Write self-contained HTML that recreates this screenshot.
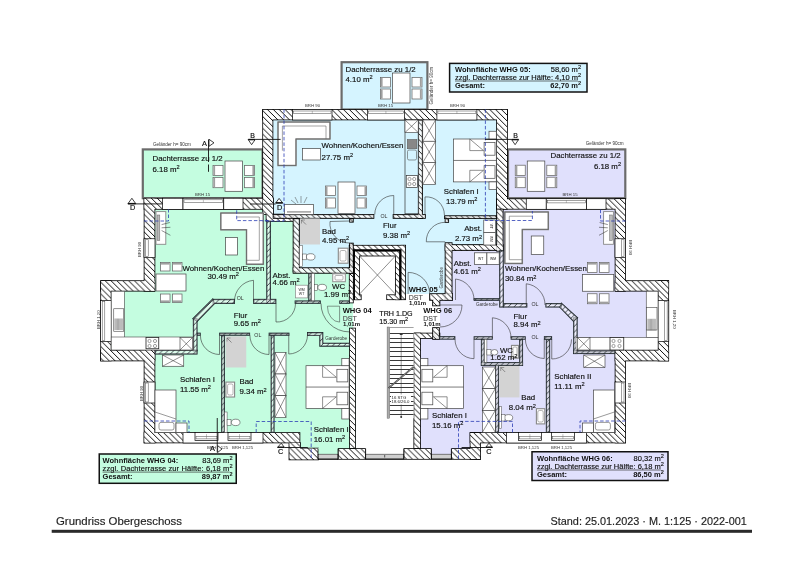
<!DOCTYPE html>
<html><head><meta charset="utf-8"><title>Grundriss Obergeschoss</title>
<style>
html,body{margin:0;padding:0;background:#fff;}
body{width:800px;height:565px;overflow:hidden;}
svg{display:block;will-change:transform;}
text{font-family:"Liberation Sans",sans-serif;}
</style></head><body>
<svg width="800" height="565" viewBox="0 0 800 565">
<defs>
<pattern id="h" patternUnits="userSpaceOnUse" width="5.85" height="5.85"><rect width="5.85" height="5.85" fill="#fff"/><path d="M-1,-1 L6.85,6.85 M-1,4.85 L1,6.85 M4.85,-1 L6.85,1" stroke="#000" stroke-width="0.95"/></pattern>
<pattern id="hi" patternUnits="userSpaceOnUse" width="5.7" height="5.7"><rect width="5.7" height="5.7" fill="#fff" fill-opacity="0.8"/><path d="M-1,-1 L6.7,6.7 M-1,4.7 L1,6.7 M4.7,-1 L6.7,1" stroke="#000" stroke-width="0.85"/></pattern>
<pattern id="hp" patternUnits="userSpaceOnUse" width="5.7" height="5.7"><rect width="5.7" height="5.7" fill="#fff" fill-opacity="0.45"/><path d="M-1,6.7 L6.7,-1 M-1,1 L1,-1 M4.7,6.7 L6.7,4.7" stroke="#1a2228" stroke-width="0.8"/></pattern>
</defs>
<rect width="800" height="565" fill="#fff"/>
<rect x="142.8" y="149.4" width="119.8" height="48.8" fill="#c4fde0" stroke="#6b6b6b" stroke-width="2.2" />
<rect x="341.6" y="62.2" width="85.8" height="47.3" fill="#d5f4ff" stroke="#6b6b6b" stroke-width="2.2" />
<rect x="508" y="149.4" width="117.3" height="48.8" fill="#e0e0fc" stroke="#6b6b6b" stroke-width="2.2" />
<rect x="273" y="120" width="224" height="125" fill="#d5f4ff" stroke="none" stroke-width="1" />
<rect x="300" y="218" width="146" height="76" fill="#d5f4ff" stroke="none" stroke-width="1" />
<polygon points="155,209.4 266.5,209.4 266.5,221 293,221 293,270 350,270 350,300 356,300 356,449 300,449 300,432.5 155,432.5 155,350 111,350 111,291 155,291" fill="#c4fde0" stroke="none" stroke-width="1" />
<rect x="299" y="218" width="51" height="50" fill="#d5f4ff" stroke="none" stroke-width="1" />
<polygon points="615,209.4 503,209.4 503,248 450,248 450,300 420,300 420,449 470,449 470,432.5 615,432.5 615,350 658,350 658,291 615,291" fill="#e0e0fc" stroke="none" stroke-width="1" />
<rect x="356" y="300" width="58" height="149" fill="#fff" stroke="none" stroke-width="1" />
<rect x="353" y="249" width="48" height="51" fill="#fff" stroke="none" stroke-width="1" />
<rect x="353" y="299" width="87" height="34" fill="#fff" stroke="none" stroke-width="1" />
<rect x="440" y="299" width="12" height="31" fill="#e0e0fc" stroke="none" stroke-width="1" />
<rect x="263.1" y="109.9" width="243.9" height="9.6" fill="none" stroke="#000" stroke-width="1.6" />
<rect x="263.1" y="109.9" width="9.4" height="104.1" fill="none" stroke="#000" stroke-width="1.6" />
<polygon points="262.6,198.2 273,198.2 273,214.5 293,214.5 293,221 266.5,221 266.5,209.4 262.6,209.4" fill="none" stroke="#000" stroke-width="1.6" />
<rect x="497" y="109.9" width="10" height="98.8" fill="none" stroke="#000" stroke-width="1.6" />
<rect x="144.5" y="198.7" width="117.6" height="10.2" fill="none" stroke="#000" stroke-width="1.6" />
<rect x="144.5" y="198.7" width="10" height="92.05" fill="none" stroke="#000" stroke-width="1.6" />
<rect x="101.1" y="281.1" width="53.4" height="9.65" fill="none" stroke="#000" stroke-width="1.6" />
<rect x="101.1" y="281.1" width="9.65" height="79.4" fill="none" stroke="#000" stroke-width="1.6" />
<rect x="101.1" y="350.5" width="53.4" height="10" fill="none" stroke="#000" stroke-width="1.6" />
<rect x="144.5" y="350.5" width="10" height="92" fill="none" stroke="#000" stroke-width="1.6" />
<rect x="144.5" y="433" width="155" height="9.5" fill="none" stroke="#000" stroke-width="1.6" />
<polygon points="289.4,443 300,443 300,448.5 318,448.5 318,459.4 289.4,459.4" fill="none" stroke="#000" stroke-width="1.6" />
<rect x="338.5" y="449" width="26.6" height="9.9" fill="none" stroke="#000" stroke-width="1.6" />
<rect x="404.25" y="449" width="26.65" height="9.9" fill="none" stroke="#000" stroke-width="1.6" />
<rect x="451.9" y="449" width="28.2" height="9.9" fill="none" stroke="#000" stroke-width="1.6" />
<rect x="470.5" y="433" width="9.6" height="25.9" fill="none" stroke="#000" stroke-width="1.6" />
<rect x="497" y="199.2" width="128.1" height="9.6" fill="none" stroke="#000" stroke-width="1.6" />
<rect x="615.5" y="199.2" width="9.6" height="91.55" fill="none" stroke="#000" stroke-width="1.6" />
<rect x="615.5" y="281.1" width="52.75" height="9.65" fill="none" stroke="#000" stroke-width="1.6" />
<rect x="658.5" y="281.1" width="9.75" height="79.4" fill="none" stroke="#000" stroke-width="1.6" />
<rect x="615.5" y="350.5" width="52.75" height="10" fill="none" stroke="#000" stroke-width="1.6" />
<rect x="615.5" y="350.5" width="9.6" height="92" fill="none" stroke="#000" stroke-width="1.6" />
<rect x="470.5" y="433" width="154.6" height="9.5" fill="none" stroke="#000" stroke-width="1.6" />
<rect x="349.9" y="328.5" width="5.2" height="119.5" fill="none" stroke="#000" stroke-width="1.6" />
<rect x="414.25" y="333.5" width="5.85" height="114.5" fill="none" stroke="#000" stroke-width="1.6" />
<rect x="414.25" y="333.5" width="25.25" height="4.5" fill="none" stroke="#000" stroke-width="1.6" />
<rect x="349.7" y="245.7" width="55.4" height="3.6" fill="none" stroke="#000" stroke-width="1.6" />
<rect x="349.7" y="245.7" width="3.2" height="56.8" fill="none" stroke="#000" stroke-width="1.6" />
<rect x="401.5" y="245.7" width="3.6" height="53.6" fill="none" stroke="#000" stroke-width="1.6" />
<rect x="353.9" y="250.3" width="46.6" height="0.2" fill="none" stroke="#000" stroke-width="1.6" />
<rect x="355" y="251.5" width="4.1" height="47.8" fill="none" stroke="#000" stroke-width="1.6" />
<rect x="355" y="251.5" width="44.2" height="4.1" fill="none" stroke="#000" stroke-width="1.6" />
<rect x="395.8" y="251.5" width="3.4" height="47.8" fill="none" stroke="#000" stroke-width="1.6" />
<rect x="355" y="295.2" width="5.8" height="4.1" fill="none" stroke="#000" stroke-width="1.6" />
<rect x="387.1" y="295.2" width="13.4" height="4.1" fill="none" stroke="#000" stroke-width="1.6" />
<rect x="263.1" y="109.9" width="243.9" height="9.6" fill="url(#h)" stroke="none" stroke-width="1" />
<rect x="263.1" y="109.9" width="9.4" height="104.1" fill="url(#h)" stroke="none" stroke-width="1" />
<polygon points="262.6,198.2 273,198.2 273,214.5 293,214.5 293,221 266.5,221 266.5,209.4 262.6,209.4" fill="url(#h)" stroke="none" stroke-width="1" />
<rect x="497" y="109.9" width="10" height="98.8" fill="url(#h)" stroke="none" stroke-width="1" />
<rect x="144.5" y="198.7" width="117.6" height="10.2" fill="url(#h)" stroke="none" stroke-width="1" />
<rect x="144.5" y="198.7" width="10" height="92.05" fill="url(#h)" stroke="none" stroke-width="1" />
<rect x="101.1" y="281.1" width="53.4" height="9.65" fill="url(#h)" stroke="none" stroke-width="1" />
<rect x="101.1" y="281.1" width="9.65" height="79.4" fill="url(#h)" stroke="none" stroke-width="1" />
<rect x="101.1" y="350.5" width="53.4" height="10" fill="url(#h)" stroke="none" stroke-width="1" />
<rect x="144.5" y="350.5" width="10" height="92" fill="url(#h)" stroke="none" stroke-width="1" />
<rect x="144.5" y="433" width="155" height="9.5" fill="url(#h)" stroke="none" stroke-width="1" />
<polygon points="289.4,443 300,443 300,448.5 318,448.5 318,459.4 289.4,459.4" fill="url(#h)" stroke="none" stroke-width="1" />
<rect x="338.5" y="449" width="26.6" height="9.9" fill="url(#h)" stroke="none" stroke-width="1" />
<rect x="404.25" y="449" width="26.65" height="9.9" fill="url(#h)" stroke="none" stroke-width="1" />
<rect x="451.9" y="449" width="28.2" height="9.9" fill="url(#h)" stroke="none" stroke-width="1" />
<rect x="470.5" y="433" width="9.6" height="25.9" fill="url(#h)" stroke="none" stroke-width="1" />
<rect x="497" y="199.2" width="128.1" height="9.6" fill="url(#h)" stroke="none" stroke-width="1" />
<rect x="615.5" y="199.2" width="9.6" height="91.55" fill="url(#h)" stroke="none" stroke-width="1" />
<rect x="615.5" y="281.1" width="52.75" height="9.65" fill="url(#h)" stroke="none" stroke-width="1" />
<rect x="658.5" y="281.1" width="9.75" height="79.4" fill="url(#h)" stroke="none" stroke-width="1" />
<rect x="615.5" y="350.5" width="52.75" height="10" fill="url(#h)" stroke="none" stroke-width="1" />
<rect x="615.5" y="350.5" width="9.6" height="92" fill="url(#h)" stroke="none" stroke-width="1" />
<rect x="470.5" y="433" width="154.6" height="9.5" fill="url(#h)" stroke="none" stroke-width="1" />
<rect x="349.9" y="328.5" width="5.2" height="119.5" fill="url(#h)" stroke="none" stroke-width="1" />
<rect x="414.25" y="333.5" width="5.85" height="114.5" fill="url(#h)" stroke="none" stroke-width="1" />
<rect x="414.25" y="333.5" width="25.25" height="4.5" fill="url(#h)" stroke="none" stroke-width="1" />
<rect x="349.7" y="245.7" width="55.4" height="3.6" fill="url(#h)" stroke="none" stroke-width="1" />
<rect x="349.7" y="245.7" width="3.2" height="56.8" fill="url(#h)" stroke="none" stroke-width="1" />
<rect x="401.5" y="245.7" width="3.6" height="53.6" fill="url(#h)" stroke="none" stroke-width="1" />
<rect x="353.9" y="250.3" width="46.6" height="0.2" fill="url(#h)" stroke="none" stroke-width="1" />
<rect x="355" y="251.5" width="4.1" height="47.8" fill="url(#h)" stroke="none" stroke-width="1" />
<rect x="355" y="251.5" width="44.2" height="4.1" fill="url(#h)" stroke="none" stroke-width="1" />
<rect x="395.8" y="251.5" width="3.4" height="47.8" fill="url(#h)" stroke="none" stroke-width="1" />
<rect x="355" y="295.2" width="5.8" height="4.1" fill="url(#h)" stroke="none" stroke-width="1" />
<rect x="387.1" y="295.2" width="13.4" height="4.1" fill="url(#h)" stroke="none" stroke-width="1" />
<rect x="273.5" y="214.9" width="100" height="3.1" fill="none" stroke="#000" stroke-width="1.6" />
<rect x="393.5" y="214.9" width="31.5" height="3.1" fill="none" stroke="#000" stroke-width="1.6" />
<rect x="293.5" y="219" width="5.5" height="52.5" fill="none" stroke="#000" stroke-width="1.6" />
<rect x="293.5" y="268.1" width="59.4" height="4.8" fill="none" stroke="#000" stroke-width="1.6" />
<rect x="350" y="243.5" width="2.9" height="29.4" fill="none" stroke="#000" stroke-width="1.6" />
<rect x="350" y="219" width="2.9" height="2.8" fill="none" stroke="#000" stroke-width="1.6" />
<rect x="418.5" y="120.5" width="3.7" height="97.5" fill="none" stroke="#000" stroke-width="1.6" />
<rect x="444.9" y="216.1" width="51.1" height="2.1" fill="none" stroke="#000" stroke-width="1.6" />
<rect x="445.5" y="219" width="2.75" height="3" fill="none" stroke="#000" stroke-width="1.6" />
<rect x="445.5" y="245" width="57.3" height="5.2" fill="none" stroke="#000" stroke-width="1.6" />
<rect x="497" y="209.5" width="5.8" height="41.3" fill="none" stroke="#000" stroke-width="1.6" />
<rect x="445.5" y="243.1" width="6.2" height="56.4" fill="none" stroke="#000" stroke-width="1.6" />
<polygon points="430,294 452.2,294 452.2,300 439.5,300 439.5,305.5 433,305.5 433,300 430,300" fill="none" stroke="#000" stroke-width="1.6" />
<rect x="433" y="328" width="6" height="11" fill="none" stroke="#000" stroke-width="1.6" />
<rect x="273.5" y="214.9" width="100" height="3.1" fill="url(#hi)" stroke="none" stroke-width="1" />
<rect x="393.5" y="214.9" width="31.5" height="3.1" fill="url(#hi)" stroke="none" stroke-width="1" />
<rect x="293.5" y="219" width="5.5" height="52.5" fill="url(#hi)" stroke="none" stroke-width="1" />
<rect x="293.5" y="268.1" width="59.4" height="4.8" fill="url(#hi)" stroke="none" stroke-width="1" />
<rect x="350" y="243.5" width="2.9" height="29.4" fill="url(#hi)" stroke="none" stroke-width="1" />
<rect x="350" y="219" width="2.9" height="2.8" fill="url(#hi)" stroke="none" stroke-width="1" />
<rect x="418.5" y="120.5" width="3.7" height="97.5" fill="url(#hi)" stroke="none" stroke-width="1" />
<rect x="444.9" y="216.1" width="51.1" height="2.1" fill="url(#hi)" stroke="none" stroke-width="1" />
<rect x="445.5" y="219" width="2.75" height="3" fill="url(#hi)" stroke="none" stroke-width="1" />
<rect x="445.5" y="245" width="57.3" height="5.2" fill="url(#hi)" stroke="none" stroke-width="1" />
<rect x="497" y="209.5" width="5.8" height="41.3" fill="url(#hi)" stroke="none" stroke-width="1" />
<rect x="445.5" y="243.1" width="6.2" height="56.4" fill="url(#hi)" stroke="none" stroke-width="1" />
<polygon points="430,294 452.2,294 452.2,300 439.5,300 439.5,305.5 433,305.5 433,300 430,300" fill="url(#hi)" stroke="none" stroke-width="1" />
<rect x="433" y="328" width="6" height="11" fill="url(#hi)" stroke="none" stroke-width="1" />
<rect x="266.95" y="221.35" width="3.3" height="81.8" fill="none" stroke="#1a2228" stroke-width="1.4" />
<rect x="308.95" y="273.75" width="2.1" height="26.9" fill="none" stroke="#1a2228" stroke-width="1.4" />
<rect x="295.35" y="301.15" width="24.8" height="2" fill="none" stroke="#1a2228" stroke-width="1.4" />
<rect x="339.95" y="301.15" width="9.1" height="2" fill="none" stroke="#1a2228" stroke-width="1.4" />
<rect x="213.35" y="299.55" width="20.9" height="3.7" fill="none" stroke="#1a2228" stroke-width="1.4" />
<rect x="253.85" y="299.55" width="21.8" height="3.7" fill="none" stroke="#1a2228" stroke-width="1.4" />
<polygon points="212.7,299.2 214.3,303.6 197.2,321.1 193.2,318.7" fill="none" stroke="#1a2228" stroke-width="1.4" />
<rect x="193.55" y="319.05" width="3.3" height="31.6" fill="none" stroke="#1a2228" stroke-width="1.4" />
<rect x="197.55" y="333.35" width="2.5" height="1.7" fill="none" stroke="#1a2228" stroke-width="1.4" />
<rect x="155.35" y="350.35" width="41.5" height="3.5" fill="none" stroke="#1a2228" stroke-width="1.4" />
<rect x="219.85" y="333.35" width="29.55" height="1.7" fill="none" stroke="#1a2228" stroke-width="1.4" />
<rect x="269.35" y="333.35" width="19.4" height="1.7" fill="none" stroke="#1a2228" stroke-width="1.4" />
<rect x="221.85" y="335.75" width="2.4" height="96.4" fill="none" stroke="#1a2228" stroke-width="1.4" />
<rect x="271.35" y="335.75" width="2.5" height="96.4" fill="none" stroke="#1a2228" stroke-width="1.4" />
<polygon points="307.7,332.7 322.6,332.7 322.6,343.4 349.4,343.4 349.4,346 320,346 320,335.4 307.7,335.4" fill="none" stroke="#1a2228" stroke-width="1.4" />
<rect x="474.35" y="298.85" width="25.3" height="1.3" fill="none" stroke="#1a2228" stroke-width="1.4" />
<rect x="499.85" y="251.05" width="3.3" height="55.8" fill="none" stroke="#1a2228" stroke-width="1.4" />
<rect x="439.85" y="336.85" width="14.8" height="2.1" fill="none" stroke="#1a2228" stroke-width="1.4" />
<rect x="474.35" y="336.95" width="17.7" height="2.05" fill="none" stroke="#1a2228" stroke-width="1.4" />
<rect x="511.35" y="336.95" width="13.7" height="2.05" fill="none" stroke="#1a2228" stroke-width="1.4" />
<rect x="481.6" y="339.7" width="2.45" height="25.55" fill="none" stroke="#1a2228" stroke-width="1.4" />
<rect x="519.85" y="339.7" width="2.5" height="25.55" fill="none" stroke="#1a2228" stroke-width="1.4" />
<rect x="481.6" y="362.75" width="40.75" height="2.5" fill="none" stroke="#1a2228" stroke-width="1.4" />
<rect x="495.65" y="365.35" width="2.7" height="66.8" fill="none" stroke="#1a2228" stroke-width="1.4" />
<rect x="544.6" y="336.85" width="6.8" height="2.3" fill="none" stroke="#1a2228" stroke-width="1.4" />
<rect x="546.55" y="339.85" width="2.9" height="92.3" fill="none" stroke="#1a2228" stroke-width="1.4" />
<rect x="503.85" y="303.75" width="22.8" height="3.1" fill="none" stroke="#1a2228" stroke-width="1.4" />
<rect x="546.1" y="303.75" width="15.05" height="3.1" fill="none" stroke="#1a2228" stroke-width="1.4" />
<polygon points="561.5,303.4 577.3,317.7 573.5,321 560,307.2" fill="none" stroke="#1a2228" stroke-width="1.4" />
<rect x="573.85" y="318.05" width="3.1" height="35.3" fill="none" stroke="#1a2228" stroke-width="1.4" />
<rect x="573.85" y="351.05" width="40.8" height="2.3" fill="none" stroke="#1a2228" stroke-width="1.4" />
<rect x="266.95" y="221.35" width="3.3" height="81.8" fill="url(#hp)" stroke="none" stroke-width="1" />
<rect x="308.95" y="273.75" width="2.1" height="26.9" fill="url(#hp)" stroke="none" stroke-width="1" />
<rect x="295.35" y="301.15" width="24.8" height="2" fill="url(#hp)" stroke="none" stroke-width="1" />
<rect x="339.95" y="301.15" width="9.1" height="2" fill="url(#hp)" stroke="none" stroke-width="1" />
<rect x="213.35" y="299.55" width="20.9" height="3.7" fill="url(#hp)" stroke="none" stroke-width="1" />
<rect x="253.85" y="299.55" width="21.8" height="3.7" fill="url(#hp)" stroke="none" stroke-width="1" />
<polygon points="212.7,299.2 214.3,303.6 197.2,321.1 193.2,318.7" fill="url(#hp)" stroke="none" stroke-width="1" />
<rect x="193.55" y="319.05" width="3.3" height="31.6" fill="url(#hp)" stroke="none" stroke-width="1" />
<rect x="197.55" y="333.35" width="2.5" height="1.7" fill="url(#hp)" stroke="none" stroke-width="1" />
<rect x="155.35" y="350.35" width="41.5" height="3.5" fill="url(#hp)" stroke="none" stroke-width="1" />
<rect x="219.85" y="333.35" width="29.55" height="1.7" fill="url(#hp)" stroke="none" stroke-width="1" />
<rect x="269.35" y="333.35" width="19.4" height="1.7" fill="url(#hp)" stroke="none" stroke-width="1" />
<rect x="221.85" y="335.75" width="2.4" height="96.4" fill="url(#hp)" stroke="none" stroke-width="1" />
<rect x="271.35" y="335.75" width="2.5" height="96.4" fill="url(#hp)" stroke="none" stroke-width="1" />
<polygon points="307.7,332.7 322.6,332.7 322.6,343.4 349.4,343.4 349.4,346 320,346 320,335.4 307.7,335.4" fill="url(#hp)" stroke="none" stroke-width="1" />
<rect x="474.35" y="298.85" width="25.3" height="1.3" fill="url(#hp)" stroke="none" stroke-width="1" />
<rect x="499.85" y="251.05" width="3.3" height="55.8" fill="url(#hp)" stroke="none" stroke-width="1" />
<rect x="439.85" y="336.85" width="14.8" height="2.1" fill="url(#hp)" stroke="none" stroke-width="1" />
<rect x="474.35" y="336.95" width="17.7" height="2.05" fill="url(#hp)" stroke="none" stroke-width="1" />
<rect x="511.35" y="336.95" width="13.7" height="2.05" fill="url(#hp)" stroke="none" stroke-width="1" />
<rect x="481.6" y="339.7" width="2.45" height="25.55" fill="url(#hp)" stroke="none" stroke-width="1" />
<rect x="519.85" y="339.7" width="2.5" height="25.55" fill="url(#hp)" stroke="none" stroke-width="1" />
<rect x="481.6" y="362.75" width="40.75" height="2.5" fill="url(#hp)" stroke="none" stroke-width="1" />
<rect x="495.65" y="365.35" width="2.7" height="66.8" fill="url(#hp)" stroke="none" stroke-width="1" />
<rect x="544.6" y="336.85" width="6.8" height="2.3" fill="url(#hp)" stroke="none" stroke-width="1" />
<rect x="546.55" y="339.85" width="2.9" height="92.3" fill="url(#hp)" stroke="none" stroke-width="1" />
<rect x="503.85" y="303.75" width="22.8" height="3.1" fill="url(#hp)" stroke="none" stroke-width="1" />
<rect x="546.1" y="303.75" width="15.05" height="3.1" fill="url(#hp)" stroke="none" stroke-width="1" />
<polygon points="561.5,303.4 577.3,317.7 573.5,321 560,307.2" fill="url(#hp)" stroke="none" stroke-width="1" />
<rect x="573.85" y="318.05" width="3.1" height="35.3" fill="url(#hp)" stroke="none" stroke-width="1" />
<rect x="573.85" y="351.05" width="40.8" height="2.3" fill="url(#hp)" stroke="none" stroke-width="1" />
<rect x="292.6" y="109.4" width="39.4" height="10.6" fill="#fff" stroke="#000" stroke-width="0.7" />
<rect x="293.6" y="111" width="37.4" height="2.6" fill="#fff" stroke="#444" stroke-width="0.5" />
<line x1="312.3" y1="111" x2="312.3" y2="113.6" stroke="#666" stroke-width="0.4" />
<rect x="367.4" y="109.4" width="37" height="10.6" fill="#fff" stroke="#000" stroke-width="0.7" />
<rect x="368.4" y="111" width="35" height="2.6" fill="#fff" stroke="#444" stroke-width="0.5" />
<line x1="385.9" y1="111" x2="385.9" y2="113.6" stroke="#666" stroke-width="0.4" />
<rect x="436.9" y="109.4" width="40" height="10.6" fill="#fff" stroke="#000" stroke-width="0.7" />
<rect x="437.9" y="111" width="38" height="2.6" fill="#fff" stroke="#444" stroke-width="0.5" />
<line x1="456.9" y1="111" x2="456.9" y2="113.6" stroke="#666" stroke-width="0.4" />
<rect x="162.5" y="198.2" width="20.5" height="11.2" fill="#fff" stroke="#000" stroke-width="0.7" />
<rect x="183" y="198.2" width="40.75" height="11.2" fill="#fff" stroke="#000" stroke-width="0.7" />
<rect x="184" y="199.8" width="38.75" height="2.6" fill="#fff" stroke="#444" stroke-width="0.5" />
<line x1="203.38" y1="199.8" x2="203.38" y2="202.4" stroke="#666" stroke-width="0.4" />
<rect x="223.75" y="198.2" width="19.25" height="11.2" fill="#fff" stroke="#000" stroke-width="0.7" />
<rect x="526.25" y="198.7" width="20" height="10.6" fill="#fff" stroke="#000" stroke-width="0.7" />
<rect x="546.25" y="198.7" width="40.25" height="10.6" fill="#fff" stroke="#000" stroke-width="0.7" />
<rect x="547.25" y="200.3" width="38.25" height="2.6" fill="#fff" stroke="#444" stroke-width="0.5" />
<line x1="566.38" y1="200.3" x2="566.38" y2="202.9" stroke="#666" stroke-width="0.4" />
<rect x="586.5" y="198.7" width="19.5" height="10.6" fill="#fff" stroke="#000" stroke-width="0.7" />
<rect x="144" y="238.75" width="11" height="18.75" fill="#fff" stroke="#000" stroke-width="0.7" />
<rect x="145.6" y="239.75" width="2.6" height="16.75" fill="#fff" stroke="#444" stroke-width="0.5" />
<rect x="615" y="238.75" width="10.6" height="18.75" fill="#fff" stroke="#000" stroke-width="0.7" />
<rect x="621.4" y="239.75" width="2.6" height="16.75" fill="#fff" stroke="#444" stroke-width="0.5" />
<rect x="100.6" y="300.5" width="10.65" height="40.9" fill="#fff" stroke="#000" stroke-width="0.7" />
<rect x="102.2" y="301.5" width="2.6" height="38.9" fill="#fff" stroke="#444" stroke-width="0.5" />
<rect x="658" y="300.5" width="10.75" height="40.9" fill="#fff" stroke="#000" stroke-width="0.7" />
<rect x="664.55" y="301.5" width="2.6" height="38.9" fill="#fff" stroke="#444" stroke-width="0.5" />
<rect x="144" y="382" width="11" height="21" fill="#fff" stroke="#000" stroke-width="0.7" />
<rect x="145.6" y="383" width="2.6" height="19" fill="#fff" stroke="#444" stroke-width="0.5" />
<rect x="615" y="382" width="10.6" height="21" fill="#fff" stroke="#000" stroke-width="0.7" />
<rect x="621.4" y="383" width="2.6" height="19" fill="#fff" stroke="#444" stroke-width="0.5" />
<rect x="183" y="432.5" width="80" height="10.5" fill="#fff" stroke="#000" stroke-width="0.7" />
<rect x="195" y="432.5" width="23" height="8" fill="#fff" stroke="#000" stroke-width="0.7" />
<rect x="196" y="436.3" width="21" height="2.6" fill="#fff" stroke="#444" stroke-width="0.5" />
<line x1="206.5" y1="434.1" x2="206.5" y2="438.9" stroke="#666" stroke-width="0.4" />
<rect x="228" y="432.5" width="23" height="8" fill="#fff" stroke="#000" stroke-width="0.7" />
<rect x="229" y="436.3" width="21" height="2.6" fill="#fff" stroke="#444" stroke-width="0.5" />
<line x1="239.5" y1="434.1" x2="239.5" y2="438.9" stroke="#666" stroke-width="0.4" />
<rect x="506.4" y="432.5" width="80" height="10.5" fill="#fff" stroke="#000" stroke-width="0.7" />
<rect x="518.4" y="432.5" width="23" height="8" fill="#fff" stroke="#000" stroke-width="0.7" />
<rect x="519.4" y="436.3" width="21" height="2.6" fill="#fff" stroke="#444" stroke-width="0.5" />
<line x1="529.9" y1="434.1" x2="529.9" y2="438.9" stroke="#666" stroke-width="0.4" />
<rect x="551.4" y="432.5" width="23" height="8" fill="#fff" stroke="#000" stroke-width="0.7" />
<rect x="552.4" y="436.3" width="21" height="2.6" fill="#fff" stroke="#444" stroke-width="0.5" />
<line x1="562.9" y1="434.1" x2="562.9" y2="438.9" stroke="#666" stroke-width="0.4" />
<rect x="318" y="448" width="20" height="6.2" fill="#c4fde0" stroke="none" stroke-width="1" />
<rect x="318" y="454.2" width="20" height="4.1" fill="#cfcfcf" stroke="#333" stroke-width="0.6" />
<line x1="318" y1="459.4" x2="338" y2="459.4" stroke="#000" stroke-width="0.9" />
<line x1="318" y1="448.5" x2="318" y2="459.4" stroke="#000" stroke-width="0.8" />
<line x1="338" y1="448.5" x2="338" y2="459.4" stroke="#000" stroke-width="0.8" />
<rect x="365.6" y="448" width="38.15" height="6.2" fill="#fff" stroke="none" stroke-width="1" />
<rect x="365.6" y="454.2" width="38.15" height="4.1" fill="#cfcfcf" stroke="#333" stroke-width="0.6" />
<line x1="365.6" y1="459.4" x2="403.75" y2="459.4" stroke="#000" stroke-width="0.9" />
<line x1="365.6" y1="448.5" x2="365.6" y2="459.4" stroke="#000" stroke-width="0.8" />
<line x1="403.75" y1="448.5" x2="403.75" y2="459.4" stroke="#000" stroke-width="0.8" />
<line x1="384.7" y1="455" x2="384.7" y2="457.5" stroke="#333" stroke-width="0.8" />
<rect x="431.4" y="448" width="20" height="6.2" fill="#e0e0fc" stroke="none" stroke-width="1" />
<rect x="431.4" y="454.2" width="20" height="4.1" fill="#cfcfcf" stroke="#333" stroke-width="0.6" />
<line x1="431.4" y1="459.4" x2="451.4" y2="459.4" stroke="#000" stroke-width="0.9" />
<line x1="431.4" y1="448.5" x2="431.4" y2="459.4" stroke="#000" stroke-width="0.8" />
<line x1="451.4" y1="448.5" x2="451.4" y2="459.4" stroke="#000" stroke-width="0.8" />
<polygon points="278,122 330,122 330,139 296,139 296,165.5 278,165.5" fill="#fff" stroke="#8a8a8a" stroke-width="1.5" />
<polygon points="278,122 330,122 330,139 296,139 296,165.5 278,165.5" fill="none" stroke="#555" stroke-width="0.5" />
<polyline points="282.4,150.7 282.4,126 326,126 326,139" fill="none" stroke="#666" stroke-width="0.6" />
<rect x="302.4" y="148.6" width="18" height="11.4" fill="#fff" stroke="#444" stroke-width="0.7" />
<rect x="338" y="182" width="17" height="31.5" fill="#fff" stroke="#444" stroke-width="0.7" />
<rect x="325.4" y="186" width="10" height="9.6" fill="#fff" stroke="#666" stroke-width="0.75" />
<rect x="325.8" y="186.4" width="1.7" height="8.8" fill="#a0a0a0" stroke="none" stroke-width="1" />
<rect x="357" y="186" width="9.6" height="9.6" fill="#fff" stroke="#666" stroke-width="0.75" />
<rect x="364.5" y="186.4" width="1.7" height="8.8" fill="#a0a0a0" stroke="none" stroke-width="1" />
<rect x="325.4" y="198" width="10" height="10" fill="#fff" stroke="#666" stroke-width="0.75" />
<rect x="325.8" y="198.4" width="1.7" height="9.2" fill="#a0a0a0" stroke="none" stroke-width="1" />
<rect x="357" y="198" width="9.6" height="10" fill="#fff" stroke="#666" stroke-width="0.75" />
<rect x="364.5" y="198.4" width="1.7" height="9.2" fill="#a0a0a0" stroke="none" stroke-width="1" />
<rect x="405" y="120" width="13.2" height="93.75" fill="#d5f4ff" stroke="#333" stroke-width="0.7" />
<rect x="405" y="120" width="13.2" height="12.5" fill="#fff" stroke="#333" stroke-width="0.6" />
<line x1="405" y1="120" x2="418.2" y2="132.5" stroke="#333" stroke-width="0.54" />
<line x1="405" y1="132.5" x2="418.2" y2="120" stroke="#333" stroke-width="0.54" />
<rect x="407.25" y="139.4" width="9.65" height="9.35" fill="#888" stroke="#555" stroke-width="0.5" />
<rect x="407.5" y="150" width="9" height="10" fill="none" stroke="#555" stroke-width="0.6" rx="1.5"/>
<rect x="406.25" y="175.6" width="11.25" height="11.9" fill="#fff" stroke="#333" stroke-width="0.7" />
<circle cx="409.5" cy="179" r="1.6" fill="none" stroke="#444" stroke-width="0.5"/>
<circle cx="414.2" cy="179" r="1.6" fill="none" stroke="#444" stroke-width="0.5"/>
<circle cx="409.5" cy="184" r="1.6" fill="none" stroke="#444" stroke-width="0.5"/>
<circle cx="414.2" cy="184" r="1.6" fill="none" stroke="#444" stroke-width="0.5"/>
<rect x="422.75" y="120" width="12.85" height="21.25" fill="#fff" stroke="#333" stroke-width="0.6" />
<line x1="422.75" y1="120" x2="435.6" y2="141.25" stroke="#333" stroke-width="0.54" />
<line x1="422.75" y1="141.25" x2="435.6" y2="120" stroke="#333" stroke-width="0.54" />
<rect x="422.75" y="141.25" width="12.85" height="21.25" fill="#fff" stroke="#333" stroke-width="0.6" />
<line x1="422.75" y1="141.25" x2="435.6" y2="162.5" stroke="#333" stroke-width="0.54" />
<line x1="422.75" y1="162.5" x2="435.6" y2="141.25" stroke="#333" stroke-width="0.54" />
<rect x="422.75" y="162.5" width="12.85" height="21.9" fill="#fff" stroke="#333" stroke-width="0.6" />
<line x1="422.75" y1="162.5" x2="435.6" y2="184.4" stroke="#333" stroke-width="0.54" />
<line x1="422.75" y1="184.4" x2="435.6" y2="162.5" stroke="#333" stroke-width="0.54" />
<rect x="453.5" y="139" width="42.8" height="42.9" fill="#fff" stroke="#444" stroke-width="0.7" />
<line x1="453.5" y1="160.45" x2="496.3" y2="160.45" stroke="#444" stroke-width="0.7" />
<polyline points="483.5,150.6 469.8,150.6 469.8,139 483.5,150.6" fill="none" stroke="#444" stroke-width="0.6" />
<polyline points="483.5,170.3 469.8,170.3 469.8,181.9 483.5,170.3" fill="none" stroke="#444" stroke-width="0.6" />
<rect x="484.1" y="142.6" width="10.9" height="12.6" fill="#fff" stroke="#444" stroke-width="0.7" />
<rect x="484.1" y="165.7" width="10.9" height="12.6" fill="#fff" stroke="#444" stroke-width="0.7" />
<rect x="489" y="131.25" width="7.3" height="7.75" fill="#fff" stroke="#444" stroke-width="0.7" />
<rect x="489" y="181.9" width="7.3" height="7.5" fill="#fff" stroke="#444" stroke-width="0.7" />
<rect x="284.5" y="204.5" width="29" height="10" fill="#fff" stroke="#444" stroke-width="0.7" />
<rect x="287" y="211.2" width="24" height="1.4" fill="#999" stroke="none" stroke-width="1" />
<line x1="298" y1="203" x2="295" y2="197" stroke="#444" stroke-width="0.5" />
<line x1="301" y1="203" x2="301" y2="196" stroke="#444" stroke-width="0.5" />
<line x1="304" y1="203" x2="307" y2="197" stroke="#444" stroke-width="0.5" />
<line x1="296" y1="204" x2="291" y2="200" stroke="#444" stroke-width="0.5" />
<rect x="300" y="218.5" width="20" height="26" fill="#d3d3d3" stroke="none" stroke-width="1" />
<line x1="301.5" y1="220" x2="306" y2="224.5" stroke="#555" stroke-width="0.6" />
<line x1="301.5" y1="220" x2="305" y2="220" stroke="#555" stroke-width="0.5" />
<line x1="301.5" y1="220" x2="301.5" y2="223.5" stroke="#555" stroke-width="0.5" />
<rect x="299.5" y="245.4" width="3.2" height="21.3" fill="#fff" stroke="#444" stroke-width="0.5" />
<rect x="302.7" y="254" width="3.8" height="5.8" fill="#fff" stroke="#444" stroke-width="0.5" />
<ellipse cx="310.7" cy="256.9" rx="4.3" ry="3.2" fill="#fff" stroke="#444" stroke-width="0.6"/>
<rect x="338.3" y="248.2" width="9.8" height="15" fill="#fff" stroke="#888" stroke-width="1.1" />
<rect x="340" y="250.5" width="6" height="10.5" fill="none" stroke="#666" stroke-width="0.5" rx="1.5"/>
<rect x="311.4" y="273.4" width="2.9" height="27.4" fill="#fff" stroke="#444" stroke-width="0.5" />
<rect x="332.7" y="273.8" width="12.7" height="7.9" fill="#fff" stroke="#999" stroke-width="1.1" />
<rect x="335" y="275.5" width="8" height="4.5" fill="#fff" stroke="#666" stroke-width="0.5" rx="1"/>
<rect x="314.3" y="284.5" width="3.2" height="5.8" fill="#fff" stroke="#444" stroke-width="0.5" />
<ellipse cx="322.2" cy="287.4" rx="4.3" ry="3.1" fill="#fff" stroke="#444" stroke-width="0.6"/>
<rect x="295.5" y="285.2" width="12.2" height="12.7" fill="#fff" stroke="#888" stroke-width="0.7" />
<text x="301.6" y="291" font-size="3.6" fill="#333" font-weight="normal" text-anchor="middle" >WM</text>
<text x="301.6" y="295.2" font-size="3.6" fill="#333" font-weight="normal" text-anchor="middle" >WT</text>
<rect x="483.75" y="220" width="11.85" height="12.5" fill="#fff" stroke="#444" stroke-width="0.7" />
<rect x="483.75" y="232.5" width="11.85" height="12.5" fill="#fff" stroke="#444" stroke-width="0.7" />
<text x="490" y="226.2" font-size="3.2" fill="#111" font-weight="normal" text-anchor="middle" transform="rotate(90 490 226.2)">WT</text>
<text x="490" y="238.8" font-size="3.2" fill="#111" font-weight="normal" text-anchor="middle" transform="rotate(90 490 238.8)">WM</text>
<rect x="474.4" y="252.8" width="12.5" height="11.6" fill="#fff" stroke="#444" stroke-width="0.7" />
<rect x="486.9" y="252.8" width="12.3" height="11.6" fill="#fff" stroke="#444" stroke-width="0.7" />
<text x="480.6" y="260" font-size="3.4" fill="#111" font-weight="normal" text-anchor="middle" >WT</text>
<text x="493" y="260" font-size="3.4" fill="#111" font-weight="normal" text-anchor="middle" >WM</text>
<line x1="359.6" y1="256.1" x2="395.3" y2="294" stroke="#444" stroke-width="0.6" />
<line x1="359.6" y1="294" x2="395.3" y2="256.1" stroke="#444" stroke-width="0.6" />
<polyline points="354,299.8 354,250.4 400.3,250.4 400.3,299.8" fill="none" stroke="#000" stroke-width="1.5" />
<rect x="392.5" y="73" width="17.5" height="30" fill="#fff" stroke="#444" stroke-width="0.7" />
<rect x="380.5" y="77.5" width="10" height="9.5" fill="#fff" stroke="#666" stroke-width="0.75" />
<rect x="380.9" y="77.9" width="1.7" height="8.7" fill="#a0a0a0" stroke="none" stroke-width="1" />
<rect x="380.5" y="89" width="10" height="10" fill="#fff" stroke="#666" stroke-width="0.75" />
<rect x="380.9" y="89.4" width="1.7" height="9.2" fill="#a0a0a0" stroke="none" stroke-width="1" />
<rect x="412" y="77.5" width="10" height="9.5" fill="#fff" stroke="#666" stroke-width="0.75" />
<rect x="419.9" y="77.9" width="1.7" height="8.7" fill="#a0a0a0" stroke="none" stroke-width="1" />
<rect x="412" y="89" width="10" height="10" fill="#fff" stroke="#666" stroke-width="0.75" />
<rect x="419.9" y="89.4" width="1.7" height="9.2" fill="#a0a0a0" stroke="none" stroke-width="1" />
<rect x="225" y="161" width="17.5" height="30.3" fill="#fff" stroke="#444" stroke-width="0.7" />
<rect x="213" y="165.5" width="10" height="10" fill="#fff" stroke="#666" stroke-width="0.75" />
<rect x="213.4" y="165.9" width="1.7" height="9.2" fill="#a0a0a0" stroke="none" stroke-width="1" />
<rect x="213" y="177.5" width="10" height="10.2" fill="#fff" stroke="#666" stroke-width="0.75" />
<rect x="213.4" y="177.9" width="1.7" height="9.4" fill="#a0a0a0" stroke="none" stroke-width="1" />
<rect x="244.5" y="165.5" width="10" height="10" fill="#fff" stroke="#666" stroke-width="0.75" />
<rect x="252.4" y="165.9" width="1.7" height="9.2" fill="#a0a0a0" stroke="none" stroke-width="1" />
<rect x="244.5" y="177.5" width="10" height="10.2" fill="#fff" stroke="#666" stroke-width="0.75" />
<rect x="252.4" y="177.9" width="1.7" height="9.4" fill="#a0a0a0" stroke="none" stroke-width="1" />
<rect x="527.25" y="161" width="17.55" height="30.3" fill="#fff" stroke="#444" stroke-width="0.7" />
<rect x="515.25" y="165.2" width="10" height="10.3" fill="#fff" stroke="#666" stroke-width="0.75" />
<rect x="515.65" y="165.6" width="1.7" height="9.5" fill="#a0a0a0" stroke="none" stroke-width="1" />
<rect x="515.25" y="177.2" width="10" height="10.5" fill="#fff" stroke="#666" stroke-width="0.75" />
<rect x="515.65" y="177.6" width="1.7" height="9.7" fill="#a0a0a0" stroke="none" stroke-width="1" />
<rect x="546.8" y="165.2" width="10" height="10.3" fill="#fff" stroke="#666" stroke-width="0.75" />
<rect x="554.7" y="165.6" width="1.7" height="9.5" fill="#a0a0a0" stroke="none" stroke-width="1" />
<rect x="546.8" y="177.2" width="10" height="10.5" fill="#fff" stroke="#666" stroke-width="0.75" />
<rect x="554.7" y="177.6" width="1.7" height="9.7" fill="#a0a0a0" stroke="none" stroke-width="1" />
<rect x="156" y="211.6" width="9.8" height="32.7" fill="#fff" stroke="#888" stroke-width="0.9" />
<rect x="157.1" y="215" width="2.7" height="25.6" fill="#bbb" stroke="#666" stroke-width="0.5" />
<line x1="161.6" y1="224.6" x2="169.8" y2="222.5" stroke="#333" stroke-width="0.55" />
<line x1="161.6" y1="227.8" x2="170.4" y2="227.3" stroke="#333" stroke-width="0.55" />
<line x1="161.6" y1="230.5" x2="170.4" y2="235.3" stroke="#333" stroke-width="0.55" />
<polygon points="263.3,213 220.8,213 220.8,229.8 246.5,229.8 246.5,264.3 263.3,264.3" fill="#fff" stroke="#8a8a8a" stroke-width="1.5" />
<polygon points="263.3,213 220.8,213 220.8,229.8 246.5,229.8 246.5,264.3 263.3,264.3" fill="none" stroke="#555" stroke-width="0.5" />
<polyline points="246.5,260.3 259.3,260.3 259.3,217 236.7,217" fill="none" stroke="#666" stroke-width="0.6" />
<rect x="225.6" y="237.5" width="11.9" height="17.5" fill="#fff" stroke="#444" stroke-width="0.7" />
<rect x="156" y="274" width="30" height="17" fill="#fff" stroke="#444" stroke-width="0.7" />
<rect x="160.5" y="262.5" width="9.5" height="8.5" fill="#fff" stroke="#666" stroke-width="0.75" />
<rect x="160.9" y="262.9" width="8.7" height="1.7" fill="#a0a0a0" stroke="none" stroke-width="1" />
<rect x="160.5" y="294" width="9.5" height="8.5" fill="#fff" stroke="#666" stroke-width="0.75" />
<rect x="160.9" y="300.4" width="8.7" height="1.7" fill="#a0a0a0" stroke="none" stroke-width="1" />
<rect x="172.5" y="262.5" width="9.5" height="8.5" fill="#fff" stroke="#666" stroke-width="0.75" />
<rect x="172.9" y="262.9" width="8.7" height="1.7" fill="#a0a0a0" stroke="none" stroke-width="1" />
<rect x="172.5" y="294" width="9.5" height="8.5" fill="#fff" stroke="#666" stroke-width="0.75" />
<rect x="172.9" y="300.4" width="8.7" height="1.7" fill="#a0a0a0" stroke="none" stroke-width="1" />
<rect x="111.25" y="291.25" width="13.15" height="58.75" fill="#fff" stroke="#444" stroke-width="0.6" />
<rect x="111.25" y="337" width="81.95" height="13" fill="#fff" stroke="#444" stroke-width="0.6" />
<rect x="113.75" y="308.75" width="10" height="22.5" fill="#fff" stroke="#444" stroke-width="0.6" />
<line x1="115" y1="318.5" x2="115" y2="330" stroke="#555" stroke-width="0.55" />
<line x1="116.2" y1="318.5" x2="116.2" y2="330" stroke="#555" stroke-width="0.55" />
<line x1="117.4" y1="318.5" x2="117.4" y2="330" stroke="#555" stroke-width="0.55" />
<line x1="118.6" y1="318.5" x2="118.6" y2="330" stroke="#555" stroke-width="0.55" />
<line x1="119.8" y1="318.5" x2="119.8" y2="330" stroke="#555" stroke-width="0.55" />
<line x1="121" y1="318.5" x2="121" y2="330" stroke="#555" stroke-width="0.55" />
<line x1="122.2" y1="318.5" x2="122.2" y2="330" stroke="#555" stroke-width="0.55" />
<rect x="146" y="337.5" width="12.75" height="11.25" fill="#fff" stroke="#222" stroke-width="0.8" />
<circle cx="149.5" cy="341" r="1.6" fill="none" stroke="#444" stroke-width="0.5"/>
<circle cx="155" cy="341" r="1.6" fill="none" stroke="#444" stroke-width="0.5"/>
<circle cx="149.5" cy="346" r="1.6" fill="none" stroke="#444" stroke-width="0.5"/>
<circle cx="155" cy="346" r="1.6" fill="none" stroke="#444" stroke-width="0.5"/>
<rect x="180" y="337.5" width="12.5" height="12.5" fill="#fff" stroke="#333" stroke-width="0.6" />
<line x1="180" y1="337.5" x2="192.5" y2="350" stroke="#333" stroke-width="0.54" />
<line x1="180" y1="350" x2="192.5" y2="337.5" stroke="#333" stroke-width="0.54" />
<rect x="162.5" y="355" width="21.25" height="11.25" fill="#fff" stroke="#333" stroke-width="0.6" />
<line x1="162.5" y1="355" x2="183.75" y2="366.25" stroke="#333" stroke-width="0.54" />
<line x1="162.5" y1="366.25" x2="183.75" y2="355" stroke="#333" stroke-width="0.54" />
<rect x="155" y="390" width="21" height="42.5" fill="#fff" stroke="#444" stroke-width="0.7" />
<line x1="155" y1="412" x2="176" y2="419" stroke="#555" stroke-width="0.6" />
<rect x="159" y="422.4" width="15" height="7.6" fill="#fff" stroke="#555" stroke-width="0.6" rx="2"/>
<rect x="176" y="423" width="11" height="9.5" fill="#fff" stroke="#444" stroke-width="0.7" />
<rect x="225.5" y="336.25" width="20.75" height="31.25" fill="#d3d3d3" stroke="none" stroke-width="1" />
<line x1="227" y1="338" x2="231.5" y2="342.5" stroke="#555" stroke-width="0.6" />
<line x1="227" y1="338" x2="230.5" y2="338" stroke="#555" stroke-width="0.5" />
<line x1="227" y1="338" x2="227" y2="341.5" stroke="#555" stroke-width="0.5" />
<rect x="225.9" y="382.1" width="8.7" height="14.9" fill="#fff" stroke="#888" stroke-width="1.1" />
<rect x="227.6" y="384" width="5.4" height="11" fill="none" stroke="#666" stroke-width="0.5" rx="1.5"/>
<rect x="224.6" y="412" width="2.5" height="20.5" fill="#fff" stroke="#444" stroke-width="0.5" />
<rect x="227.1" y="419.5" width="3.9" height="5.8" fill="#fff" stroke="#444" stroke-width="0.5" />
<ellipse cx="235.7" cy="422.4" rx="4.3" ry="3.2" fill="#fff" stroke="#444" stroke-width="0.6"/>
<rect x="275" y="352.5" width="11" height="21.5" fill="#fff" stroke="#333" stroke-width="0.6" />
<line x1="275" y1="352.5" x2="286" y2="374" stroke="#333" stroke-width="0.54" />
<line x1="275" y1="374" x2="286" y2="352.5" stroke="#333" stroke-width="0.54" />
<rect x="275" y="374" width="11" height="21.7" fill="#fff" stroke="#333" stroke-width="0.6" />
<line x1="275" y1="374" x2="286" y2="395.7" stroke="#333" stroke-width="0.54" />
<line x1="275" y1="395.7" x2="286" y2="374" stroke="#333" stroke-width="0.54" />
<rect x="275" y="395.7" width="11" height="21.8" fill="#fff" stroke="#333" stroke-width="0.6" />
<line x1="275" y1="395.7" x2="286" y2="417.5" stroke="#333" stroke-width="0.54" />
<line x1="275" y1="417.5" x2="286" y2="395.7" stroke="#333" stroke-width="0.54" />
<rect x="306" y="365.7" width="43.1" height="42.7" fill="#fff" stroke="#444" stroke-width="0.7" />
<line x1="306" y1="387.05" x2="349.1" y2="387.05" stroke="#444" stroke-width="0.7" />
<polyline points="336.3,377.3 322.6,377.3 322.6,365.7 336.3,377.3" fill="none" stroke="#444" stroke-width="0.6" />
<polyline points="336.3,396.8 322.6,396.8 322.6,408.4 336.3,396.8" fill="none" stroke="#444" stroke-width="0.6" />
<rect x="336.9" y="369.3" width="10.9" height="12.6" fill="#fff" stroke="#444" stroke-width="0.7" />
<rect x="336.9" y="392.2" width="10.9" height="12.6" fill="#fff" stroke="#444" stroke-width="0.7" />
<rect x="341.8" y="358.6" width="7.3" height="7.1" fill="#fff" stroke="#444" stroke-width="0.7" />
<rect x="341.8" y="408.4" width="7.3" height="10.6" fill="#fff" stroke="#444" stroke-width="0.7" />
<rect x="420.6" y="365.7" width="43" height="42.7" fill="#fff" stroke="#444" stroke-width="0.7" />
<line x1="420.6" y1="387.05" x2="463.6" y2="387.05" stroke="#444" stroke-width="0.7" />
<polyline points="433.4,377.3 447.1,377.3 447.1,365.7 433.4,377.3" fill="none" stroke="#444" stroke-width="0.6" />
<polyline points="433.4,396.8 447.1,396.8 447.1,408.4 433.4,396.8" fill="none" stroke="#444" stroke-width="0.6" />
<rect x="421.9" y="369.3" width="10.9" height="12.6" fill="#fff" stroke="#444" stroke-width="0.7" />
<rect x="421.9" y="392.2" width="10.9" height="12.6" fill="#fff" stroke="#444" stroke-width="0.7" />
<rect x="420.6" y="358.6" width="7.3" height="7.1" fill="#fff" stroke="#444" stroke-width="0.7" />
<rect x="420.6" y="408.4" width="7.3" height="10.6" fill="#fff" stroke="#444" stroke-width="0.7" />
<rect x="389.7" y="327.5" width="23.9" height="90.7" fill="#fff" stroke="none" stroke-width="1" />
<line x1="389.7" y1="333.5" x2="413.6" y2="333.5" stroke="#222" stroke-width="0.9" />
<line x1="389.7" y1="338.5" x2="413.6" y2="338.5" stroke="#222" stroke-width="0.9" />
<line x1="389.7" y1="342.5" x2="413.6" y2="342.5" stroke="#222" stroke-width="0.9" />
<line x1="389.7" y1="347.5" x2="413.6" y2="347.5" stroke="#222" stroke-width="0.9" />
<line x1="389.7" y1="351.5" x2="413.6" y2="351.5" stroke="#222" stroke-width="0.9" />
<line x1="389.7" y1="356.5" x2="413.6" y2="356.5" stroke="#222" stroke-width="0.9" />
<line x1="389.7" y1="360.5" x2="413.6" y2="360.5" stroke="#222" stroke-width="0.9" />
<line x1="389.7" y1="365.5" x2="413.6" y2="365.5" stroke="#222" stroke-width="0.9" />
<line x1="389.7" y1="369.5" x2="413.6" y2="369.5" stroke="#222" stroke-width="0.9" />
<line x1="389.7" y1="374.5" x2="413.6" y2="374.5" stroke="#222" stroke-width="0.9" />
<line x1="389.7" y1="378.5" x2="413.6" y2="378.5" stroke="#222" stroke-width="0.9" />
<line x1="389.7" y1="383.5" x2="413.6" y2="383.5" stroke="#222" stroke-width="0.9" />
<line x1="389.7" y1="387.5" x2="413.6" y2="387.5" stroke="#222" stroke-width="0.9" />
<line x1="389.7" y1="392.5" x2="413.6" y2="392.5" stroke="#222" stroke-width="0.9" />
<line x1="389.7" y1="396.5" x2="413.6" y2="396.5" stroke="#222" stroke-width="0.9" />
<line x1="389.7" y1="401.5" x2="413.6" y2="401.5" stroke="#222" stroke-width="0.9" />
<line x1="389.7" y1="405.5" x2="413.6" y2="405.5" stroke="#222" stroke-width="0.9" />
<line x1="389.7" y1="410.5" x2="413.6" y2="410.5" stroke="#222" stroke-width="0.9" />
<line x1="389.7" y1="414.5" x2="413.6" y2="414.5" stroke="#222" stroke-width="0.9" />
<line x1="389.7" y1="327.5" x2="413.6" y2="327.5" stroke="#444" stroke-width="0.5" />
<rect x="387.1" y="327" width="2.6" height="91.2" fill="#aaa" stroke="#555" stroke-width="0.4" />
<line x1="401.2" y1="333.5" x2="401.2" y2="417" stroke="#333" stroke-width="0.5" />
<path d="M399.6,335 A1.6,1.6 0 0 1 402.8,335 Z" fill="#333"/>
<circle cx="401.2" cy="417" r="1" fill="#333"/>
<line x1="388.5" y1="388.1" x2="413.6" y2="366.9" stroke="#333" stroke-width="1.6" />
<line x1="388.5" y1="388.1" x2="413.6" y2="366.9" stroke="#ddd" stroke-width="0.5" />
<rect x="391" y="394.5" width="20" height="10" fill="#fff" stroke="none" stroke-width="1" />
<text x="391.5" y="398.8" font-size="4.3" fill="#222" font-weight="normal" text-anchor="start" >16 STG</text>
<text x="391.5" y="403.2" font-size="4.3" fill="#222" font-weight="normal" text-anchor="start" >18.6/26.0</text>
<polygon points="504.8,211.9 548.3,211.9 548.3,229.4 522.3,229.4 522.3,263.4 504.8,263.4" fill="#fff" stroke="#8a8a8a" stroke-width="1.5" />
<polygon points="504.8,211.9 548.3,211.9 548.3,229.4 522.3,229.4 522.3,263.4 504.8,263.4" fill="none" stroke="#555" stroke-width="0.5" />
<polyline points="522.3,259.7 509.3,259.7 509.3,216.2 532.4,216.2" fill="none" stroke="#666" stroke-width="0.6" />
<rect x="531.25" y="236" width="12.5" height="18.5" fill="#fff" stroke="#444" stroke-width="0.7" />
<rect x="603.6" y="211.6" width="9.8" height="32.7" fill="#fff" stroke="#888" stroke-width="0.9" />
<rect x="609.6" y="215" width="2.7" height="25.6" fill="#bbb" stroke="#666" stroke-width="0.5" />
<line x1="607.8" y1="224.6" x2="599.6" y2="222.5" stroke="#333" stroke-width="0.55" />
<line x1="607.8" y1="227.8" x2="599" y2="227.3" stroke="#333" stroke-width="0.55" />
<line x1="607.8" y1="230.5" x2="599" y2="235.3" stroke="#333" stroke-width="0.55" />
<rect x="582.5" y="274.5" width="31.25" height="16.75" fill="#fff" stroke="#444" stroke-width="0.7" />
<rect x="587.5" y="262.5" width="9.5" height="10" fill="#fff" stroke="#666" stroke-width="0.75" />
<rect x="587.9" y="262.9" width="8.7" height="1.7" fill="#a0a0a0" stroke="none" stroke-width="1" />
<rect x="587.5" y="293.75" width="9.5" height="10" fill="#fff" stroke="#666" stroke-width="0.75" />
<rect x="587.9" y="301.65" width="8.7" height="1.7" fill="#a0a0a0" stroke="none" stroke-width="1" />
<rect x="599.5" y="262.5" width="9.5" height="10" fill="#fff" stroke="#666" stroke-width="0.75" />
<rect x="599.9" y="262.9" width="8.7" height="1.7" fill="#a0a0a0" stroke="none" stroke-width="1" />
<rect x="599.5" y="293.75" width="9.5" height="10" fill="#fff" stroke="#666" stroke-width="0.75" />
<rect x="599.9" y="301.65" width="8.7" height="1.7" fill="#a0a0a0" stroke="none" stroke-width="1" />
<rect x="646.25" y="291.25" width="11.75" height="46.25" fill="#fff" stroke="#444" stroke-width="0.6" />
<rect x="576" y="337.5" width="82" height="12.5" fill="#fff" stroke="#444" stroke-width="0.6" />
<rect x="646.5" y="307.5" width="10.5" height="22.5" fill="#fff" stroke="#444" stroke-width="0.6" />
<line x1="648" y1="318.8" x2="648" y2="330.5" stroke="#555" stroke-width="0.55" />
<line x1="649.2" y1="318.8" x2="649.2" y2="330.5" stroke="#555" stroke-width="0.55" />
<line x1="650.4" y1="318.8" x2="650.4" y2="330.5" stroke="#555" stroke-width="0.55" />
<line x1="651.6" y1="318.8" x2="651.6" y2="330.5" stroke="#555" stroke-width="0.55" />
<line x1="652.8" y1="318.8" x2="652.8" y2="330.5" stroke="#555" stroke-width="0.55" />
<line x1="654" y1="318.8" x2="654" y2="330.5" stroke="#555" stroke-width="0.55" />
<line x1="655.2" y1="318.8" x2="655.2" y2="330.5" stroke="#555" stroke-width="0.55" />
<rect x="610" y="337.5" width="13.75" height="12.5" fill="#fff" stroke="#222" stroke-width="0.8" />
<circle cx="613.5" cy="341" r="1.6" fill="none" stroke="#444" stroke-width="0.5"/>
<circle cx="619.5" cy="341" r="1.6" fill="none" stroke="#444" stroke-width="0.5"/>
<circle cx="613.5" cy="346" r="1.6" fill="none" stroke="#444" stroke-width="0.5"/>
<circle cx="619.5" cy="346" r="1.6" fill="none" stroke="#444" stroke-width="0.5"/>
<rect x="577.5" y="337.5" width="12.5" height="12.5" fill="#fff" stroke="#333" stroke-width="0.6" />
<line x1="577.5" y1="337.5" x2="590" y2="350" stroke="#333" stroke-width="0.54" />
<line x1="577.5" y1="350" x2="590" y2="337.5" stroke="#333" stroke-width="0.54" />
<rect x="583.75" y="355" width="21.25" height="12.5" fill="#fff" stroke="#333" stroke-width="0.6" />
<line x1="583.75" y1="355" x2="605" y2="367.5" stroke="#333" stroke-width="0.54" />
<line x1="583.75" y1="367.5" x2="605" y2="355" stroke="#333" stroke-width="0.54" />
<rect x="593.4" y="390" width="21" height="42.5" fill="#fff" stroke="#444" stroke-width="0.7" />
<line x1="614.4" y1="412" x2="593.4" y2="419" stroke="#555" stroke-width="0.6" />
<rect x="595.4" y="422.4" width="15" height="7.6" fill="#fff" stroke="#555" stroke-width="0.6" rx="2"/>
<rect x="582.4" y="423" width="11" height="9.5" fill="#fff" stroke="#444" stroke-width="0.7" />
<rect x="499.2" y="366" width="20.3" height="31.4" fill="#d3d3d3" stroke="none" stroke-width="1" />
<line x1="500.7" y1="367.5" x2="505.2" y2="372" stroke="#555" stroke-width="0.6" />
<line x1="500.7" y1="367.5" x2="504.2" y2="367.5" stroke="#555" stroke-width="0.5" />
<line x1="500.7" y1="367.5" x2="500.7" y2="371" stroke="#555" stroke-width="0.5" />
<rect x="536.4" y="408.7" width="8.4" height="15.2" fill="#fff" stroke="#888" stroke-width="1.1" />
<rect x="537.8" y="410.5" width="5.4" height="11.5" fill="none" stroke="#666" stroke-width="0.5" rx="1.5"/>
<rect x="499.2" y="406.4" width="2.3" height="22" fill="#fff" stroke="#444" stroke-width="0.5" />
<ellipse cx="508.5" cy="417.7" rx="4.2" ry="3.1" fill="#fff" stroke="#444" stroke-width="0.6"/>
<rect x="501.5" y="414.5" width="3.5" height="6.5" fill="#fff" stroke="#444" stroke-width="0.5" />
<rect x="482.4" y="367" width="12.9" height="21.7" fill="#fff" stroke="#333" stroke-width="0.6" />
<line x1="482.4" y1="367" x2="495.3" y2="388.7" stroke="#333" stroke-width="0.54" />
<line x1="482.4" y1="388.7" x2="495.3" y2="367" stroke="#333" stroke-width="0.54" />
<rect x="482.4" y="388.7" width="12.9" height="21.7" fill="#fff" stroke="#333" stroke-width="0.6" />
<line x1="482.4" y1="388.7" x2="495.3" y2="410.4" stroke="#333" stroke-width="0.54" />
<line x1="482.4" y1="410.4" x2="495.3" y2="388.7" stroke="#333" stroke-width="0.54" />
<rect x="482.4" y="410.4" width="12.9" height="21.9" fill="#fff" stroke="#333" stroke-width="0.6" />
<line x1="482.4" y1="410.4" x2="495.3" y2="432.3" stroke="#333" stroke-width="0.54" />
<line x1="482.4" y1="432.3" x2="495.3" y2="410.4" stroke="#333" stroke-width="0.54" />
<rect x="484.4" y="339.35" width="2.5" height="23.05" fill="#fff" stroke="#444" stroke-width="0.5" />
<rect x="486.9" y="349.5" width="4.1" height="5.5" fill="#fff" stroke="#444" stroke-width="0.5" />
<ellipse cx="494.5" cy="352.3" rx="3.3" ry="2.8" fill="#fff" stroke="#444" stroke-width="0.6"/>
<rect x="511.5" y="345.4" width="6.9" height="12.8" fill="#fff" stroke="#888" stroke-width="1.1" />
<rect x="513" y="347" width="4" height="9.5" fill="none" stroke="#666" stroke-width="0.5" rx="1"/>
<path d="M393.75,214.5 L393.75,195.5 A19,19 0 0 0 374.75,214.5" fill="none" stroke="#333" stroke-width="0.6" />
<path d="M425,215 L425,196.9 A18.1,18.1 0 0 1 444.4,215" fill="none" stroke="#333" stroke-width="0.6" />
<path d="M445.1,241.8 L426.3,241.8 A18.8,18.8 0 0 1 445.1,222.3" fill="none" stroke="#333" stroke-width="0.6" />
<path d="M349.5,221 L330,221.5 A19.51,19.51 0 0 0 349.5,243" fill="none" stroke="#333" stroke-width="0.6" />
<path d="M408.1,294 L408.1,272.4 A21.6,21.6 0 0 1 429.7,294" fill="none" stroke="#333" stroke-width="0.6" />
<path d="M253.5,301.4 L253.5,280.3 A21.1,21.1 0 0 0 234.5,301.4" fill="none" stroke="#333" stroke-width="0.6" />
<path d="M276,303.5 L276,322 A18.5,18.5 0 0 0 295.5,303.5" fill="none" stroke="#333" stroke-width="0.6" />
<path d="M219.5,335.3 L219.5,354.5 A19.2,19.2 0 0 1 200.4,335.3" fill="none" stroke="#333" stroke-width="0.6" />
<path d="M269,335.3 L269,354.5 A19.2,19.2 0 0 1 249.9,335.3" fill="none" stroke="#333" stroke-width="0.6" />
<path d="M288.75,335 L288.75,354 A19,19 0 0 0 307.5,335" fill="none" stroke="#333" stroke-width="0.6" />
<path d="M321,303.5 A28.4,28.4 0 0 0 349.4,331.9" fill="none" stroke="#333" stroke-width="0.6" />
<path d="M327.4,306.2 L339.6,306.2 L339.6,322.1 M327.4,306.2 A12.2,15.9 0 0 0 339.6,322.1" fill="none" stroke="#333" stroke-width="0.5" />
<path d="M526.25,305 L526.25,283.75 A21.25,21.25 0 0 1 545,305" fill="none" stroke="#333" stroke-width="0.6" />
<path d="M492.4,338 L492.4,317.75 A20.25,20.25 0 0 1 511,338" fill="none" stroke="#333" stroke-width="0.6" />
<path d="M544.25,339.35 L544.25,358.5 A19.15,19.15 0 0 1 525.4,339.35" fill="none" stroke="#333" stroke-width="0.6" />
<path d="M551.75,339.35 L551.75,359 A19.65,19.65 0 0 0 571.5,339.35" fill="none" stroke="#333" stroke-width="0.6" />
<path d="M474,339.3 L474,358.7 A19.4,19.4 0 0 1 455,339.3" fill="none" stroke="#333" stroke-width="0.6" />
<path d="M455.5,300 L455.5,279 A21,21 0 0 1 474,300" fill="none" stroke="#333" stroke-width="0.6" />
<path d="M440,305 L462,305 A22,22 0 0 1 440,327" fill="none" stroke="#333" stroke-width="0.6" />
<polyline points="284,109.4 284,221 262.6,221" fill="none" stroke="#2b3db5" stroke-width="0.8" stroke-dasharray="3.5,2"/>
<polyline points="144,221 168.5,221 168.5,209.4" fill="none" stroke="#2b3db5" stroke-width="0.8" stroke-dasharray="3.5,2"/>
<polyline points="236.7,210.3 236.7,220.6 270,220.6" fill="none" stroke="#2b3db5" stroke-width="0.8" stroke-dasharray="3.5,2"/>
<polyline points="625.6,221 600.5,221 600.5,209.4" fill="none" stroke="#2b3db5" stroke-width="0.8" stroke-dasharray="3.5,2"/>
<polyline points="485.4,109.4 485.4,220.5 532.4,220.5 532.4,211" fill="none" stroke="#2b3db5" stroke-width="0.8" stroke-dasharray="3.5,2"/>
<polyline points="144,421 189,421 189,432.5" fill="none" stroke="#2b3db5" stroke-width="0.8" stroke-dasharray="3.5,2"/>
<polyline points="256.2,432.5 256.2,421.5 311.2,421.5 311.2,459.4" fill="none" stroke="#2b3db5" stroke-width="0.8" stroke-dasharray="3.5,2"/>
<polyline points="625.6,421 580,421 580,432.5" fill="none" stroke="#2b3db5" stroke-width="0.8" stroke-dasharray="3.5,2"/>
<polyline points="512.5,432.5 512.5,421.4 458.5,421.4 458.5,459.4" fill="none" stroke="#2b3db5" stroke-width="0.8" stroke-dasharray="3.5,2"/>
<text x="345.5" y="71.8" font-size="7.85" fill="#111" font-weight="normal" text-anchor="start" stroke="#111" stroke-width="0.16" >Dachterrasse zu 1/2</text>
<text x="345.5" y="81.8" font-size="7.85" fill="#111" font-weight="normal" text-anchor="start" stroke="#111" stroke-width="0.16" >4.10 m<tspan font-size="5.6" dy="-2.6">2</tspan></text>
<text x="152.5" y="161.2" font-size="7.85" fill="#111" font-weight="normal" text-anchor="start" stroke="#111" stroke-width="0.16" >Dachterrasse zu 1/2</text>
<text x="152.5" y="172" font-size="7.85" fill="#111" font-weight="normal" text-anchor="start" stroke="#111" stroke-width="0.16" >6.18 m<tspan font-size="5.6" dy="-2.6">2</tspan></text>
<text x="620.7" y="158" font-size="7.85" fill="#111" font-weight="normal" text-anchor="end" stroke="#111" stroke-width="0.16" >Dachterrasse zu 1/2</text>
<text x="621" y="168.8" font-size="7.85" fill="#111" font-weight="normal" text-anchor="end" stroke="#111" stroke-width="0.16" >6.18 m<tspan font-size="5.6" dy="-2.6">2</tspan></text>
<text x="321.6" y="148.4" font-size="7.85" fill="#111" font-weight="normal" text-anchor="start" stroke="#111" stroke-width="0.16" >Wohnen/Kochen/Essen</text>
<text x="321.6" y="159.6" font-size="7.85" fill="#111" font-weight="normal" text-anchor="start" stroke="#111" stroke-width="0.16" >27.75 m<tspan font-size="5.6" dy="-2.6">2</tspan></text>
<text x="443.75" y="194.4" font-size="7.85" fill="#111" font-weight="normal" text-anchor="start" stroke="#111" stroke-width="0.16" >Schlafen I</text>
<text x="446" y="203.8" font-size="7.85" fill="#111" font-weight="normal" text-anchor="start" stroke="#111" stroke-width="0.16" >13.79 m<tspan font-size="5.6" dy="-2.6">2</tspan></text>
<text x="383" y="228" font-size="7.85" fill="#111" font-weight="normal" text-anchor="start" stroke="#111" stroke-width="0.16" >Flur</text>
<text x="383" y="238" font-size="7.85" fill="#111" font-weight="normal" text-anchor="start" stroke="#111" stroke-width="0.16" >9.38 m<tspan font-size="5.6" dy="-2.6">2</tspan></text>
<text x="322" y="234" font-size="7.85" fill="#111" font-weight="normal" text-anchor="start" stroke="#111" stroke-width="0.16" >Bad</text>
<text x="322" y="243" font-size="7.85" fill="#111" font-weight="normal" text-anchor="start" stroke="#111" stroke-width="0.16" >4.95 m<tspan font-size="5.6" dy="-2.6">2</tspan></text>
<text x="482" y="230.6" font-size="7.85" fill="#111" font-weight="normal" text-anchor="end" stroke="#111" stroke-width="0.16" >Abst.</text>
<text x="482" y="241.2" font-size="7.85" fill="#111" font-weight="normal" text-anchor="end" stroke="#111" stroke-width="0.16" >2.73 m<tspan font-size="5.6" dy="-2.6">2</tspan></text>
<text x="182.5" y="270.5" font-size="7.85" fill="#111" font-weight="normal" text-anchor="start" stroke="#111" stroke-width="0.16" >Wohnen/Kochen/Essen</text>
<text x="207.5" y="278.8" font-size="7.85" fill="#111" font-weight="normal" text-anchor="start" stroke="#111" stroke-width="0.16" >30.49 m<tspan font-size="5.6" dy="-2.6">2</tspan></text>
<text x="272.6" y="277.5" font-size="7.85" fill="#111" font-weight="normal" text-anchor="start" stroke="#111" stroke-width="0.16" >Abst.</text>
<text x="272.6" y="285" font-size="7.85" fill="#111" font-weight="normal" text-anchor="start" stroke="#111" stroke-width="0.16" >4.66 m<tspan font-size="5.6" dy="-2.6">2</tspan></text>
<text x="332" y="289" font-size="7.85" fill="#111" font-weight="normal" text-anchor="start" stroke="#111" stroke-width="0.16" >WC</text>
<text x="324" y="297" font-size="7.85" fill="#111" font-weight="normal" text-anchor="start" stroke="#111" stroke-width="0.16" >1.99 m<tspan font-size="5.6" dy="-2.6">2</tspan></text>
<text x="233.75" y="318" font-size="7.85" fill="#111" font-weight="normal" text-anchor="start" stroke="#111" stroke-width="0.16" >Flur</text>
<text x="233.75" y="325.5" font-size="7.85" fill="#111" font-weight="normal" text-anchor="start" stroke="#111" stroke-width="0.16" >9.65 m<tspan font-size="5.6" dy="-2.6">2</tspan></text>
<text x="180" y="382.4" font-size="7.85" fill="#111" font-weight="normal" text-anchor="start" stroke="#111" stroke-width="0.16" >Schlafen I</text>
<text x="180" y="391.6" font-size="7.85" fill="#111" font-weight="normal" text-anchor="start" stroke="#111" stroke-width="0.16" >11.55 m<tspan font-size="5.6" dy="-2.6">2</tspan></text>
<text x="239.5" y="384.25" font-size="7.85" fill="#111" font-weight="normal" text-anchor="start" stroke="#111" stroke-width="0.16" >Bad</text>
<text x="239.5" y="394.45" font-size="7.85" fill="#111" font-weight="normal" text-anchor="start" stroke="#111" stroke-width="0.16" >9.34 m<tspan font-size="5.6" dy="-2.6">2</tspan></text>
<text x="313.75" y="431.75" font-size="7.85" fill="#111" font-weight="normal" text-anchor="start" stroke="#111" stroke-width="0.16" >Schlafen II</text>
<text x="313.75" y="441.75" font-size="7.85" fill="#111" font-weight="normal" text-anchor="start" stroke="#111" stroke-width="0.16" >16.01 m<tspan font-size="5.6" dy="-2.6">2</tspan></text>
<text x="505" y="270.5" font-size="7.85" fill="#111" font-weight="normal" text-anchor="start" stroke="#111" stroke-width="0.16" >Wohnen/Kochen/Essen</text>
<text x="505" y="281.1" font-size="7.85" fill="#111" font-weight="normal" text-anchor="start" stroke="#111" stroke-width="0.16" >30.84 m<tspan font-size="5.6" dy="-2.6">2</tspan></text>
<text x="453.75" y="266.25" font-size="7.85" fill="#111" font-weight="normal" text-anchor="start" stroke="#111" stroke-width="0.16" >Abst.</text>
<text x="453.75" y="273.75" font-size="7.85" fill="#111" font-weight="normal" text-anchor="start" stroke="#111" stroke-width="0.16" >4.61 m<tspan font-size="5.6" dy="-2.6">2</tspan></text>
<text x="513.5" y="319.25" font-size="7.85" fill="#111" font-weight="normal" text-anchor="start" stroke="#111" stroke-width="0.16" >Flur</text>
<text x="513.5" y="327.45" font-size="7.85" fill="#111" font-weight="normal" text-anchor="start" stroke="#111" stroke-width="0.16" >8.94 m<tspan font-size="5.6" dy="-2.6">2</tspan></text>
<text x="499.9" y="353.4" font-size="7.85" fill="#111" font-weight="normal" text-anchor="start" stroke="#111" stroke-width="0.16" >WC</text>
<text x="490.3" y="360.3" font-size="7.85" fill="#111" font-weight="normal" text-anchor="start" stroke="#111" stroke-width="0.16" >1.62 m<tspan font-size="5.6" dy="-2.6">2</tspan></text>
<text x="554.25" y="378.75" font-size="7.85" fill="#111" font-weight="normal" text-anchor="start" stroke="#111" stroke-width="0.16" >Schlafen II</text>
<text x="554.25" y="388.75" font-size="7.85" fill="#111" font-weight="normal" text-anchor="start" stroke="#111" stroke-width="0.16" >11.11 m<tspan font-size="5.6" dy="-2.6">2</tspan></text>
<text x="521.2" y="400.2" font-size="7.85" fill="#111" font-weight="normal" text-anchor="start" stroke="#111" stroke-width="0.16" >Bad</text>
<text x="508.8" y="410.1" font-size="7.85" fill="#111" font-weight="normal" text-anchor="start" stroke="#111" stroke-width="0.16" >8.04 m<tspan font-size="5.6" dy="-2.6">2</tspan></text>
<text x="432" y="417.5" font-size="7.85" fill="#111" font-weight="normal" text-anchor="start" stroke="#111" stroke-width="0.16" >Schlafen I</text>
<text x="432" y="427.5" font-size="7.85" fill="#111" font-weight="normal" text-anchor="start" stroke="#111" stroke-width="0.16" >15.16 m<tspan font-size="5.6" dy="-2.6">2</tspan></text>
<text x="379.3" y="316.1" font-size="7.15" fill="#111" font-weight="normal" text-anchor="start" stroke="#111" stroke-width="0.16" >TRH 1.DG</text>
<text x="379.3" y="323.6" font-size="7.15" fill="#111" font-weight="normal" text-anchor="start" stroke="#111" stroke-width="0.16" >15.30 m<tspan font-size="5.6" dy="-2.6">2</tspan></text>
<text x="408.7" y="292" font-size="7.6" fill="#111" font-weight="bold" text-anchor="start" >WHG 05</text>
<text x="408.7" y="299.9" font-size="7" fill="#555" font-weight="normal" text-anchor="start" stroke="#555" stroke-width="0.16" >DST</text>
<text x="409" y="305.4" font-size="6" fill="#111" font-weight="bold" text-anchor="start" >1,01m</text>
<text x="342.7" y="312.8" font-size="7.6" fill="#111" font-weight="bold" text-anchor="start" >WHG 04</text>
<text x="342.7" y="320.7" font-size="7" fill="#555" font-weight="normal" text-anchor="start" stroke="#555" stroke-width="0.16" >DST</text>
<text x="343" y="326.2" font-size="6" fill="#111" font-weight="bold" text-anchor="start" >1,01m</text>
<text x="423.2" y="312.8" font-size="7.6" fill="#111" font-weight="bold" text-anchor="start" >WHG 06</text>
<text x="423.2" y="320.7" font-size="7" fill="#555" font-weight="normal" text-anchor="start" stroke="#555" stroke-width="0.16" >DST</text>
<text x="423.5" y="326.2" font-size="6" fill="#111" font-weight="bold" text-anchor="start" >1,01m</text>
<text x="380.5" y="217.6" font-size="5.25" fill="#333" font-weight="normal" text-anchor="start" >OL</text>
<text x="236.7" y="299.7" font-size="5.25" fill="#333" font-weight="normal" text-anchor="start" >OL</text>
<text x="254.3" y="336.8" font-size="5.25" fill="#333" font-weight="normal" text-anchor="start" >OL</text>
<text x="531.5" y="306.2" font-size="5.25" fill="#333" font-weight="normal" text-anchor="start" >OL</text>
<text x="531.5" y="338.9" font-size="5.25" fill="#333" font-weight="normal" text-anchor="start" >OL</text>
<text x="476" y="305.5" font-size="4.55" fill="#333" font-weight="normal" text-anchor="start" >Garderobe</text>
<text x="325.3" y="339.6" font-size="4.55" fill="#333" font-weight="normal" text-anchor="start" >Garderobe</text>
<text x="442.7" y="288.6" font-size="4.55" fill="#333" font-weight="normal" text-anchor="start" transform="rotate(-90 442.7 288.6)">Garderobe</text>
<text x="153" y="145.6" font-size="4.6" fill="#333" font-weight="normal" text-anchor="start" >Geländer h= 90cm</text>
<text x="585.75" y="145.3" font-size="4.6" fill="#333" font-weight="normal" text-anchor="start" >Geländer h= 90cm</text>
<text x="433.2" y="104.5" font-size="4.6" fill="#333" font-weight="normal" text-anchor="start" transform="rotate(-90 433.2 104.5)">Geländer h= 90cm</text>
<text x="195" y="196" font-size="4.3" fill="#333" font-weight="normal" text-anchor="start" >BRH 15</text>
<text x="378" y="107" font-size="4.3" fill="#333" font-weight="normal" text-anchor="start" >BRH 15</text>
<text x="562.5" y="196" font-size="4.3" fill="#333" font-weight="normal" text-anchor="start" >BRH 15</text>
<text x="305" y="107" font-size="4.3" fill="#333" font-weight="normal" text-anchor="start" >BRH 90</text>
<text x="450" y="107" font-size="4.3" fill="#333" font-weight="normal" text-anchor="start" >BRH 90</text>
<text x="141" y="257" font-size="4.3" fill="#333" font-weight="normal" text-anchor="start" transform="rotate(-90 141 257)">BRH 90</text>
<text x="629" y="240" font-size="4.3" fill="#333" font-weight="normal" text-anchor="start" transform="rotate(90 629 240)">BRH 90</text>
<text x="100" y="329" font-size="4.3" fill="#333" font-weight="normal" text-anchor="start" transform="rotate(-90 100 329)">BRH 1,20</text>
<text x="673" y="310" font-size="4.3" fill="#333" font-weight="normal" text-anchor="start" transform="rotate(90 673 310)">BRH 1,20</text>
<text x="142.5" y="401" font-size="4.3" fill="#333" font-weight="normal" text-anchor="start" transform="rotate(-90 142.5 401)">BRH 90</text>
<text x="627.5" y="383" font-size="4.3" fill="#333" font-weight="normal" text-anchor="start" transform="rotate(90 627.5 383)">BRH 90</text>
<text x="207" y="448.5" font-size="4.3" fill="#333" font-weight="normal" text-anchor="start" >BRH 1,125</text>
<text x="232" y="448.5" font-size="4.3" fill="#333" font-weight="normal" text-anchor="start" >BRH 1,125</text>
<text x="518" y="448.5" font-size="4.3" fill="#333" font-weight="normal" text-anchor="start" >BRH 1,125</text>
<text x="551" y="448.5" font-size="4.3" fill="#333" font-weight="normal" text-anchor="start" >BRH 1,125</text>
<line x1="208.5" y1="139.5" x2="208.5" y2="162" stroke="#111" stroke-width="0.9" />
<line x1="208.5" y1="164.5" x2="208.5" y2="171.8" stroke="#111" stroke-width="0.9" />
<text x="202" y="145.8" font-size="7.4" fill="#111" font-weight="normal" text-anchor="start" stroke="#111" stroke-width="0.16" >A</text>
<polygon points="209,139.3 214,142.8 209,146.3" fill="#fff" stroke="#111" stroke-width="0.8" />
<line x1="217.25" y1="418" x2="217.25" y2="452.5" stroke="#111" stroke-width="0.9" />
<text x="210" y="451.3" font-size="7.4" fill="#111" font-weight="normal" text-anchor="start" stroke="#111" stroke-width="0.16" >A</text>
<polygon points="217.6,445.6 222,449 217.6,452.5" fill="#fff" stroke="#111" stroke-width="0.8" />
<line x1="255.3" y1="139.4" x2="280.6" y2="139.4" stroke="#111" stroke-width="0.9" />
<text x="250.2" y="137.5" font-size="7" fill="#111" font-weight="normal" text-anchor="start" stroke="#111" stroke-width="0.16" >B</text>
<polygon points="248.1,139.4 255.3,139.4 251.6,144.7" fill="#fff" stroke="#111" stroke-width="0.8" />
<line x1="248.3" y1="139.6" x2="255.1" y2="139.6" stroke="#111" stroke-width="1.4" />
<line x1="485" y1="139.4" x2="511.5" y2="139.4" stroke="#111" stroke-width="0.9" />
<text x="513.2" y="137.5" font-size="7" fill="#111" font-weight="normal" text-anchor="start" stroke="#111" stroke-width="0.16" >B</text>
<polygon points="511.5,139.4 518.7,139.4 515.1,144.7" fill="#fff" stroke="#111" stroke-width="0.8" />
<line x1="511.7" y1="139.6" x2="518.5" y2="139.6" stroke="#111" stroke-width="1.4" />
<line x1="135.9" y1="203.9" x2="162.5" y2="203.9" stroke="#111" stroke-width="0.9" />
<text x="130" y="210.4" font-size="7.3" fill="#111" font-weight="normal" text-anchor="start" stroke="#111" stroke-width="0.16" >D</text>
<polygon points="127.8,203.9 135.9,203.9 131.9,198.25" fill="#fff" stroke="#111" stroke-width="0.8" />
<line x1="128" y1="203.6" x2="135.7" y2="203.6" stroke="#111" stroke-width="1.4" />
<line x1="250" y1="204" x2="275.6" y2="204" stroke="#111" stroke-width="0.9" />
<text x="276.9" y="210.3" font-size="7.3" fill="#111" font-weight="normal" text-anchor="start" stroke="#111" stroke-width="0.16" >D</text>
<polygon points="275.6,203.1 282.8,203.1 279.1,198.4" fill="#fff" stroke="#111" stroke-width="0.8" />
<line x1="275.8" y1="202.8" x2="282.6" y2="202.8" stroke="#111" stroke-width="1.4" />
<line x1="284.4" y1="447.5" x2="307.8" y2="447.5" stroke="#111" stroke-width="0.9" />
<text x="278" y="454.4" font-size="7.3" fill="#111" font-weight="normal" text-anchor="start" stroke="#111" stroke-width="0.16" >C</text>
<polygon points="277.5,447.5 284.4,447.5 281.25,443.1" fill="#fff" stroke="#111" stroke-width="0.8" />
<line x1="277.7" y1="447.2" x2="284.2" y2="447.2" stroke="#111" stroke-width="1.4" />
<line x1="461.6" y1="447.5" x2="485.6" y2="447.5" stroke="#111" stroke-width="0.9" />
<text x="486.3" y="454.4" font-size="7.3" fill="#111" font-weight="normal" text-anchor="start" stroke="#111" stroke-width="0.16" >C</text>
<polygon points="485.6,447.5 492.5,447.5 489,443.1" fill="#fff" stroke="#111" stroke-width="0.8" />
<line x1="485.8" y1="447.2" x2="492.3" y2="447.2" stroke="#111" stroke-width="1.4" />
<rect x="449.6" y="63.4" width="137.4" height="28.6" fill="#d5f4ff" stroke="#111" stroke-width="1.5" />
<text x="455" y="71.5" font-size="7.5" fill="#111" font-weight="bold" text-anchor="start" >Wohnfläche WHG 05:</text>
<text x="581" y="71.5" font-size="7.5" fill="#111" font-weight="normal" text-anchor="end" stroke="#111" stroke-width="0.16" >58,60 m<tspan font-size="5.6" dy="-2.6">2</tspan></text>
<text x="455" y="79.5" font-size="7.5" fill="#111" font-weight="normal" text-anchor="start" stroke="#111" stroke-width="0.16" textLength="126.0" lengthAdjust="spacing">zzgl. Dachterrasse zur Hälfte: 4,10 m<tspan font-size="5.6" dy="-2.6">2</tspan></text>
<line x1="455" y1="81" x2="578" y2="81" stroke="#333" stroke-width="0.7" />
<text x="455" y="87.5" font-size="7.5" fill="#111" font-weight="bold" text-anchor="start" >Gesamt:</text>
<text x="581" y="87.5" font-size="7.5" fill="#111" font-weight="bold" text-anchor="end" >62,70 m<tspan font-size="5.6" dy="-2.6">2</tspan></text>
<rect x="99.25" y="454" width="137" height="29.3" fill="#c4fde0" stroke="#111" stroke-width="1.5" />
<text x="102.6" y="462.6" font-size="7.5" fill="#111" font-weight="bold" text-anchor="start" >Wohnfläche WHG 04:</text>
<text x="232.5" y="462.6" font-size="7.5" fill="#111" font-weight="normal" text-anchor="end" stroke="#111" stroke-width="0.16" >83,69 m<tspan font-size="5.6" dy="-2.6">2</tspan></text>
<text x="102.6" y="470.6" font-size="7.5" fill="#111" font-weight="normal" text-anchor="start" stroke="#111" stroke-width="0.16" textLength="129.9" lengthAdjust="spacing">zzgl. Dachterrasse zur Hälfte:  6,18 m<tspan font-size="5.6" dy="-2.6">2</tspan></text>
<line x1="102.6" y1="472.1" x2="229.5" y2="472.1" stroke="#333" stroke-width="0.7" />
<text x="102.6" y="478.6" font-size="7.5" fill="#111" font-weight="bold" text-anchor="start" >Gesamt:</text>
<text x="232.5" y="478.6" font-size="7.5" fill="#111" font-weight="bold" text-anchor="end" >89,87 m<tspan font-size="5.6" dy="-2.6">2</tspan></text>
<rect x="532" y="451.75" width="136" height="28.75" fill="#e0e0fc" stroke="#111" stroke-width="1.5" />
<text x="537" y="460.5" font-size="7.5" fill="#111" font-weight="bold" text-anchor="start" >Wohnfläche WHG 06:</text>
<text x="663.8" y="460.5" font-size="7.5" fill="#111" font-weight="normal" text-anchor="end" stroke="#111" stroke-width="0.16" >80,32 m<tspan font-size="5.6" dy="-2.6">2</tspan></text>
<text x="537" y="468.5" font-size="7.5" fill="#111" font-weight="normal" text-anchor="start" stroke="#111" stroke-width="0.16" textLength="126.8" lengthAdjust="spacing">zzgl. Dachterrasse zur Hälfte: 6,18 m<tspan font-size="5.6" dy="-2.6">2</tspan></text>
<line x1="537" y1="470" x2="660.8" y2="470" stroke="#333" stroke-width="0.7" />
<text x="537" y="476.5" font-size="7.5" fill="#111" font-weight="bold" text-anchor="start" >Gesamt:</text>
<text x="663.8" y="476.5" font-size="7.5" fill="#111" font-weight="bold" text-anchor="end" >86,50 m<tspan font-size="5.6" dy="-2.6">2</tspan></text>
<text x="56" y="524.7" font-size="11.8" fill="#222" font-weight="normal" text-anchor="start" stroke="#222" stroke-width="0.16" textLength="126" lengthAdjust="spacingAndGlyphs">Grundriss Obergeschoss</text>
<text x="550.5" y="524.7" font-size="11.8" fill="#222" font-weight="normal" text-anchor="start" stroke="#222" stroke-width="0.16" textLength="196.3" lengthAdjust="spacingAndGlyphs">Stand: 25.01.2023 · M. 1:125 · 2022-001</text>
<rect x="51.7" y="529.8" width="700.3" height="3" fill="#2a2a2a" stroke="none" stroke-width="1" />
</svg>
</body></html>
